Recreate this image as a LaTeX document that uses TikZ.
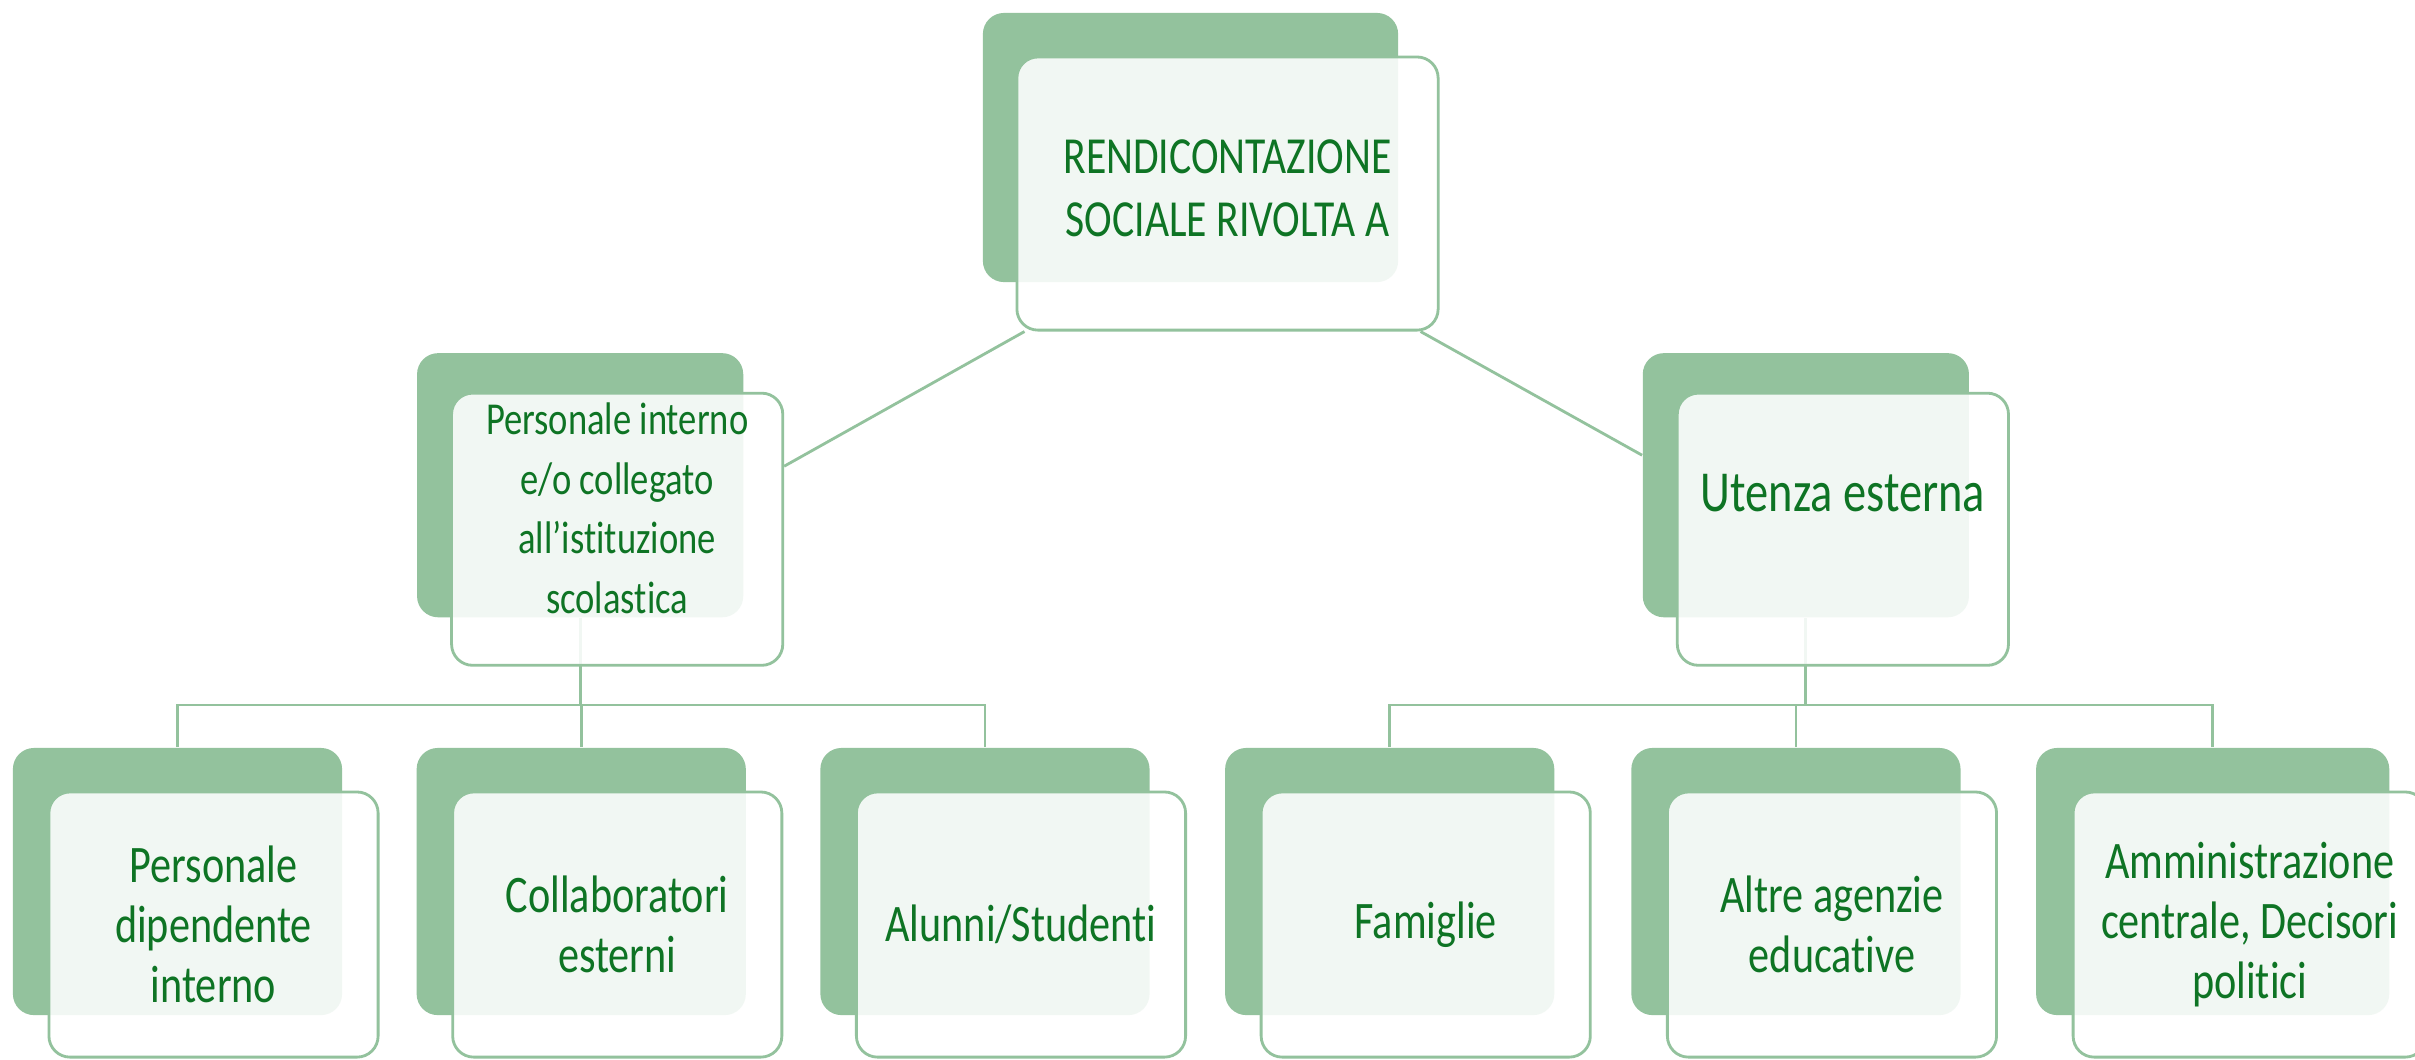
\documentclass[tikz,border=0pt]{standalone}
\usepackage{fontspec}
\setmainfont{Carlito}[FakeStretch=0.8, Ligatures=NoCommon]
\usetikzlibrary{positioning}
\usetikzlibrary{calc}
\usetikzlibrary{backgrounds}
\definecolor{boxgreen}{RGB}{147,194,157}
\definecolor{txtgreen}{RGB}{14,116,36}
\tikzset{backbox/.style={rectangle, rounded corners=6pt, fill=boxgreen, inner sep=0pt}}
\tikzset{frontbox/.style={rectangle, rounded corners=6pt, draw=boxgreen, line width=0.8pt, fill=white, fill opacity=0.88, inner sep=0pt}}
\tikzset{lbl/.style={align=center, text=txtgreen, inner sep=0pt, font=\fontsize{15}{17.1}\selectfont}}
\tikzset{ln/.style={draw=boxgreen, line width=0.8pt}}
\tikzset{small/.style={minimum width=3.29cm, minimum height=2.67cm}}

\begin{document}
\begin{tikzpicture}[x=0.01cm, y=-0.01cm, on grid]
    \useasboundingbox (0,0) rectangle (2415,1059);

    % top
    \node[backbox, minimum width=4.15cm, minimum height=2.69cm] (topB) at (1190.5,147.5) {};
    \node[frontbox, minimum width=4.21cm, minimum height=2.73cm, below right=0.46cm and 0.37cm of topB] (topF) {};
    \node[lbl, font=\fontsize{14.8}{17.9}\selectfont] (topT) at ($(topF)+(0,-5)$) {RENDICONTAZIONE\\SOCIALE RIVOLTA A};

    % second row
    \node[backbox, minimum width=3.26cm, minimum height=2.64cm, below left=3.375cm and 6.1cm of topB] (perB) {};
    \node[frontbox, minimum width=3.31cm, minimum height=2.72cm, below right=0.44cm and 0.37cm of perB] (perF) {};
    \node[lbl, font=\fontsize{13}{17}\selectfont] (perT) at ($(perF)+(0,-21)$) {Personale interno\\e/o collegato\\all’istituzione\\scolastica};

    \node[backbox, minimum width=3.26cm, minimum height=2.64cm, below right=3.375cm and 6.15cm of topB] (utB) {};
    \node[frontbox, minimum width=3.31cm, minimum height=2.72cm, below right=0.44cm and 0.37cm of utB] (utF) {};
    \node[lbl, font=\fontsize{16.5}{19}\selectfont] (utT) at ($(utF)+(0,-36)$) {Utenza esterna};

    % bottom row
    \node[backbox, small] (pdiB) at (177.5,881.5) {};
    \node[backbox, small, right=4.035cm of pdiB] (colB) {};
    \node[backbox, small, right=4.035cm of colB] (aluB) {};
    \node[backbox, small, right=4.045cm of aluB] (famB) {};
    \node[backbox, small, right=4.06cm of famB] (agB) {};
    \node[backbox, small, minimum width=3.53cm, right=4.165cm of agB] (ammB) {};

    \node[frontbox, small, minimum height=2.65cm, below right=0.43cm and 0.36cm of pdiB] (pdiF) {};
    \node[frontbox, small, minimum height=2.65cm, below right=0.43cm and 0.36cm of colB] (colF) {};
    \node[frontbox, small, minimum height=2.65cm, below right=0.43cm and 0.36cm of aluB] (aluF) {};
    \node[frontbox, small, minimum height=2.65cm, below right=0.43cm and 0.36cm of famB] (famF) {};
    \node[frontbox, small, minimum height=2.65cm, below right=0.43cm and 0.36cm of agB] (agF) {};
    \node[frontbox, small, minimum width=3.53cm, minimum height=2.65cm, below right=0.43cm and 0.37cm of ammB] (ammF) {};

    \node[lbl] (pdiT) at (pdiF) {Personale\\dipendente\\interno};
    \node[lbl] (colT) at (colF) {Collaboratori\\esterni};
    \node[lbl] (aluT) at (aluF) {Alunni/Studenti};
    \node[lbl] (famT) at (famF) {Famiglie};
    \node[lbl] (agT) at (agF) {Altre agenzie\\educative};
    \node[lbl] (ammT) at (ammF) {Amministrazione\\centrale, Decisori\\politici};

    \begin{scope}[on background layer]
        \fill[white] (0,0) rectangle (2415,1059);

        \draw[ln] ($(topF.south west)+(9,0)$) -- ($(perF.east)+(0,-63)$);
        \draw[ln] ($(topF.south east)+(-19,0)$) -- ($(utB.west)+(0,-30)$);

        \coordinate (barL) at ($(perB.south)+(0,87)$);
        \draw[ln] (perB.south) -- (barL);
        \draw[ln] (pdiB.north) |- (barL);
        \draw[ln] (aluB.north) |- (barL);
        \draw[ln] (colB.north) -- (colB.north |- barL);

        \coordinate (barR) at ($(utB.south)+(0,87)$);
        \draw[ln] (utB.south) -- (barR);
        \draw[ln] (famB.north) |- (barR);
        \draw[ln] (ammB.north) |- (barR);
        \draw[ln] (agB.north) -- (agB.north |- barR);
    \end{scope}
\end{tikzpicture}
\end{document}
